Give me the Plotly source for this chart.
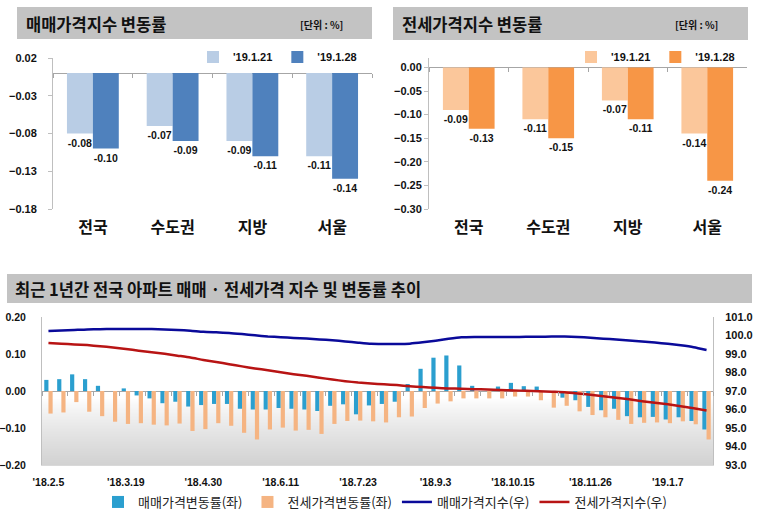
import base64
import struct
import zlib

import pandas as pd
import plotly.graph_objects as go

# ---------------- data ----------------
regions = ['전국', '수도권', '지방', '서울']
series_names = ["'19.1.21", "'19.1.28"]
sale_0121 = [-0.08, -0.07, -0.09, -0.11]
sale_0128 = [-0.10, -0.09, -0.11, -0.14]
jeonse_0121 = [-0.09, -0.11, -0.07, -0.14]
jeonse_0128 = [-0.13, -0.15, -0.11, -0.24]

weeks = [f"'{d.year % 100}.{d.month}.{d.day}" for d in pd.date_range('2018-02-05', periods=52, freq='7D')]
tick_labels = ["'18.2.5", "'18.3.19", "'18.4.30", "'18.6.11", "'18.7.23",
               "'18.9.3", "'18.10.15", "'18.11.26", "'19.1.7"]

sale_chg = [0.030, 0.032, 0.045, 0.032, 0.014, 0.000, 0.007, -0.012, -0.020, -0.033,
            -0.029, -0.042, -0.038, -0.035, -0.035, -0.048, -0.050, -0.050, -0.046, -0.048,
            -0.050, -0.054, -0.040, -0.036, -0.063, -0.039, -0.035, -0.029, 0.019, 0.060,
            0.090, 0.096, 0.069, 0.014, 0.000, 0.012, 0.022, 0.013, 0.012, 0.000,
            -0.018, -0.025, -0.043, -0.052, -0.048, -0.068, -0.071, -0.070, -0.077, -0.071,
            -0.081, -0.104]
jeonse_chg = [-0.061, -0.058, -0.030, -0.056, -0.068, -0.083, -0.089, -0.087, -0.091, -0.093,
              -0.088, -0.108, -0.103, -0.087, -0.094, -0.113, -0.131, -0.104, -0.099, -0.107,
              -0.105, -0.116, -0.089, -0.081, -0.080, -0.082, -0.085, -0.071, -0.069, -0.046,
              -0.034, -0.028, -0.020, -0.020, -0.020, -0.020, -0.015, -0.015, -0.025, -0.045,
              -0.040, -0.055, -0.065, -0.071, -0.078, -0.089, -0.086, -0.085, -0.087, -0.082,
              -0.090, -0.131]
sale_idx = [100.24, 100.27, 100.30, 100.33, 100.34, 100.35, 100.35, 100.35, 100.35, 100.33,
            100.30, 100.26, 100.20, 100.17, 100.14, 100.08, 100.01, 99.95, 99.91, 99.87,
            99.84, 99.79, 99.74, 99.68, 99.61, 99.55, 99.54, 99.54, 99.56, 99.63,
            99.72, 99.82, 99.90, 99.92, 99.92, 99.92, 99.92, 99.93, 99.93, 99.94,
            99.94, 99.92, 99.88, 99.83, 99.78, 99.73, 99.68, 99.62, 99.55, 99.47,
            99.37, 99.22]
jeonse_idx = [99.60, 99.56, 99.52, 99.48, 99.42, 99.35, 99.27, 99.18, 99.10, 99.01,
              98.91, 98.81, 98.68, 98.57, 98.45, 98.33, 98.22, 98.12, 98.01, 97.91,
              97.82, 97.72, 97.62, 97.53, 97.46, 97.41, 97.36, 97.32, 97.26, 97.21,
              97.17, 97.14, 97.12, 97.10, 97.08, 97.05, 97.03, 97.01, 96.99, 96.96,
              96.93, 96.87, 96.80, 96.72, 96.63, 96.55, 96.45, 96.36, 96.28, 96.18,
              96.07, 95.95]
bottom_names = ['매매가격변동률(좌)', '전세가격변동률(좌)', '매매가격지수(우)', '전세가격지수(우)']

# ---------------- helpers ----------------
W, H = 761, 512


def px(x):
    return x / W


def py(y):
    return 1 - y / H


def png_gradient(h):
    rows = b''
    for i in range(h):
        t = i / (h - 1)
        if t < 0.55:
            v = 255
        else:
            u = (t - 0.55) / 0.45
            v = int(round(255 - 45 * u ** 0.8))
        rows += b'\x00' + bytes([v, v, v])

    def chunk(tag, data):
        return struct.pack('>I', len(data)) + tag + data + struct.pack('>I', zlib.crc32(tag + data) & 0xffffffff)

    png = b'\x89PNG\r\n\x1a\n'
    png += chunk(b'IHDR', struct.pack('>IIBBBBB', 1, h, 8, 2, 0, 0, 0))
    png += chunk(b'IDAT', zlib.compress(rows))
    png += chunk(b'IEND', b'')
    return 'data:image/png;base64,' + base64.b64encode(png).decode()


NUM_FONT = 'Liberation Sans, Arial, Noto Sans CJK KR, sans-serif'
KR_FONT = 'Noto Sans CJK KR, sans-serif'
AX_GRAY = '#bfbfbf'

fig = go.Figure()

# ---- top-left bars ----
for name, vals, col in [(series_names[0], sale_0121, '#b9cde5'), (series_names[1], sale_0128, '#4f81bd')]:
    fig.add_trace(go.Bar(x=regions, y=vals, name=name, marker=dict(color=col, line=dict(width=0)),
                         text=[f'{v:.2f}' for v in vals], textposition='outside', cliponaxis=False,
                         textfont=dict(family=NUM_FONT, size=10.5, color='#111', weight='bold'),
                         xaxis='x', yaxis='y', legend='legend2'))
# ---- top-right bars ----
for name, vals, col in [(series_names[0], jeonse_0121, '#fbc79b'), (series_names[1], jeonse_0128, '#f79646')]:
    fig.add_trace(go.Bar(x=regions, y=vals, name=name, marker=dict(color=col, line=dict(width=0)),
                         text=[f'{v:.2f}' for v in vals], textposition='outside', cliponaxis=False,
                         textfont=dict(family=NUM_FONT, size=10.5, color='#111', weight='bold'),
                         xaxis='x2', yaxis='y2', legend='legend'))
# ---- bottom ----
fig.add_trace(go.Bar(x=weeks, y=sale_chg, name=bottom_names[0], marker=dict(color='#2b9fcf', line=dict(width=0)),
                     xaxis='x3', yaxis='y3', legend='legend3'))
fig.add_trace(go.Bar(x=weeks, y=jeonse_chg, name=bottom_names[1], marker=dict(color='#f5b482', line=dict(width=0)),
                     xaxis='x3', yaxis='y3', legend='legend3'))
fig.add_trace(go.Scatter(x=weeks, y=sale_idx, name=bottom_names[2], mode='lines',
                         line=dict(color='#0a0a9a', width=2.5, shape='spline', smoothing=0.6),
                         xaxis='x3', yaxis='y4', legend='legend3'))
fig.add_trace(go.Scatter(x=weeks, y=jeonse_idx, name=bottom_names[3], mode='lines',
                         line=dict(color='#b81414', width=2.5, shape='spline', smoothing=0.6),
                         xaxis='x3', yaxis='y4', legend='legend3'))

# invisible traces for zero-line tick axes
fig.add_trace(go.Scatter(x=regions, y=[None] * 4, xaxis='x4', yaxis='y', showlegend=False, hoverinfo='skip', mode='markers'))
fig.add_trace(go.Scatter(x=regions, y=[None] * 4, xaxis='x5', yaxis='y2', showlegend=False, hoverinfo='skip', mode='markers'))
fig.add_trace(go.Scatter(x=weeks, y=[None] * 52, xaxis='x6', yaxis='y3', showlegend=False, hoverinfo='skip', mode='markers'))

# domains
tl_x = [px(53), px(372)]
tr_x = [px(429), px(747)]
top_y = [py(209), py(58)]
bt_x = [px(42), px(713)]
bt_y = [py(465), py(317)]
tl_range = [-0.18, 0.02]
tr_range = [-0.30, 0.02]
bt_range = [-0.20, 0.20]


def zero_pos(dom, rng):
    return dom[0] + (0 - rng[0]) / (rng[1] - rng[0]) * (dom[1] - dom[0])


cat_axis = dict(type='category', showline=False, ticks='', showgrid=False, zeroline=False, automargin=False,
                tickfont=dict(family=KR_FONT, size=16, color='#111', weight='bold'), ticklabelstandoff=7)
num_tick = dict(family=NUM_FONT, size=11, color='#111', weight='bold')

zero_tick_axis = dict(type='category', anchor='free', ticks='outside', tickson='boundaries', ticklen=4,
                      tickcolor='#a6a6a6', showticklabels=False, showline=False, showgrid=False,
                      zeroline=False, automargin=False)

top_legend = dict(orientation='h', xanchor='right', yanchor='middle',
                  font=dict(family=NUM_FONT, size=11, color='#111', weight='bold'),
                  bgcolor='rgba(0,0,0,0)', itemwidth=30, traceorder='normal')

fig.update_layout(
    width=W, height=H,
    margin=dict(l=0, r=0, t=0, b=0, autoexpand=False),
    paper_bgcolor='white',
    plot_bgcolor='rgba(0,0,0,0)',
    barmode='group', bargap=0.35, bargroupgap=0,
    font=dict(family=NUM_FONT, color='#111'),
    xaxis=dict(domain=tl_x, anchor='y', range=[-0.5, 3.5], **cat_axis),
    yaxis=dict(domain=top_y, anchor='x', range=tl_range, tickvals=[0.02, -0.03, -0.08, -0.13, -0.18],
               tickformat='.2f', showgrid=False, showline=True, linecolor=AX_GRAY, ticks='outside',
               ticklen=4, tickcolor=AX_GRAY, tickfont=num_tick, ticklabelstandoff=9, automargin=False,
               zeroline=True, zerolinecolor='#a6a6a6', zerolinewidth=1),
    xaxis2=dict(domain=tr_x, anchor='y2', range=[-0.5, 3.5], **cat_axis),
    yaxis2=dict(domain=top_y, anchor='x2', range=tr_range, tickvals=[0, -0.05, -0.10, -0.15, -0.20, -0.25, -0.30],
                tickformat='.2f', showgrid=False, showline=True, linecolor=AX_GRAY, ticks='outside',
                ticklen=4, tickcolor=AX_GRAY, tickfont=num_tick, ticklabelstandoff=0, automargin=False,
                zeroline=True, zerolinecolor='#a6a6a6', zerolinewidth=1),
    xaxis3=dict(domain=bt_x, anchor='y3', type='category', range=[-0.5, 51.5], tickvals=tick_labels,
                ticktext=tick_labels, ticks='', showgrid=False, zeroline=False, showline=True,
                linecolor='#d9d9d9', tickfont=dict(family=NUM_FONT, size=10.5, color='#111', weight='bold'),
                ticklabelstandoff=7, automargin=False),
    yaxis3=dict(domain=bt_y, anchor='x3', range=bt_range, dtick=0.1, tickformat='.2f', showgrid=False,
                showline=True, linecolor=AX_GRAY, ticks='', automargin=False,
                tickfont=dict(family=NUM_FONT, size=10.5, color='#111', weight='bold'),
                ticklabelstandoff=13, zeroline=True, zerolinecolor='#a6a6a6', zerolinewidth=1),
    yaxis4=dict(overlaying='y3', anchor='x3', side='right', range=[93, 101], dtick=1, tickformat='.1f',
                showgrid=False, showline=True, linecolor=AX_GRAY, ticks='', zeroline=False, automargin=False,
                tickfont=dict(family=NUM_FONT, size=11, color='#111', weight='bold'), ticklabelstandoff=9),
    xaxis4=dict(overlaying='x', position=zero_pos(top_y, tl_range), range=[-0.5, 3.5], **zero_tick_axis),
    xaxis5=dict(overlaying='x2', position=zero_pos(top_y, tr_range), range=[-0.5, 3.5], **zero_tick_axis),
    xaxis6=dict(overlaying='x3', position=zero_pos(bt_y, bt_range), range=[-0.5, 51.5], **zero_tick_axis),
    legend2=dict(x=px(362), y=py(57), **top_legend),
    legend=dict(x=px(740), y=py(57), **top_legend),
    legend3=dict(orientation='h', x=px(385), xanchor='center', y=py(502), yanchor='middle',
                 font=dict(family=KR_FONT, size=13, color='#222'),
                 bgcolor='rgba(0,0,0,0)', traceorder='normal'),
    images=[dict(source=png_gradient(148), xref='paper', yref='paper', x=bt_x[0], y=bt_y[1],
                 sizex=bt_x[1] - bt_x[0], sizey=bt_y[1] - bt_y[0], sizing='stretch', layer='below')],
    shapes=[
        dict(type='rect', xref='paper', yref='paper', x0=px(17), x1=px(372), y0=py(39), y1=py(7),
             fillcolor='#c3c3c3', line=dict(width=0), layer='below'),
        dict(type='rect', xref='paper', yref='paper', x0=px(393), x1=px(748), y0=py(40), y1=py(7),
             fillcolor='#c3c3c3', line=dict(width=0), layer='below'),
        dict(type='rect', xref='paper', yref='paper', x0=px(7), x1=px(752), y0=py(303), y1=py(274),
             fillcolor='#c3c3c3', line=dict(width=0), layer='below'),
    ],
    annotations=[
        dict(text='매매가격지수 변동률', xref='paper', yref='paper', x=px(24), y=py(24), xanchor='left',
             yanchor='middle', showarrow=False, font=dict(family=KR_FONT, size=16.5, color='#111', weight='bold')),
        dict(text='[단위 : %]', xref='paper', yref='paper', x=px(345), y=py(24), xanchor='right',
             yanchor='middle', showarrow=False, font=dict(family=KR_FONT, size=10, color='#111', weight='bold')),
        dict(text='전세가격지수 변동률', xref='paper', yref='paper', x=px(400), y=py(24), xanchor='left',
             yanchor='middle', showarrow=False, font=dict(family=KR_FONT, size=16.5, color='#111', weight='bold')),
        dict(text='[단위 : %]', xref='paper', yref='paper', x=px(720), y=py(24), xanchor='right',
             yanchor='middle', showarrow=False, font=dict(family=KR_FONT, size=10, color='#111', weight='bold')),
        dict(text='최근 1년간 전국 아파트 매매 · 전세가격 지수 및 변동률 추이', xref='paper', yref='paper',
             x=px(13), y=py(289), xanchor='left', yanchor='middle', showarrow=False,
             font=dict(family=KR_FONT, size=16.5, color='#111', weight='bold')),
    ],
)

fig.write_html('out.html', config={'displayModeBar': False},
               post_script="document.body.style.margin='0';document.body.style.overflow='hidden';")
